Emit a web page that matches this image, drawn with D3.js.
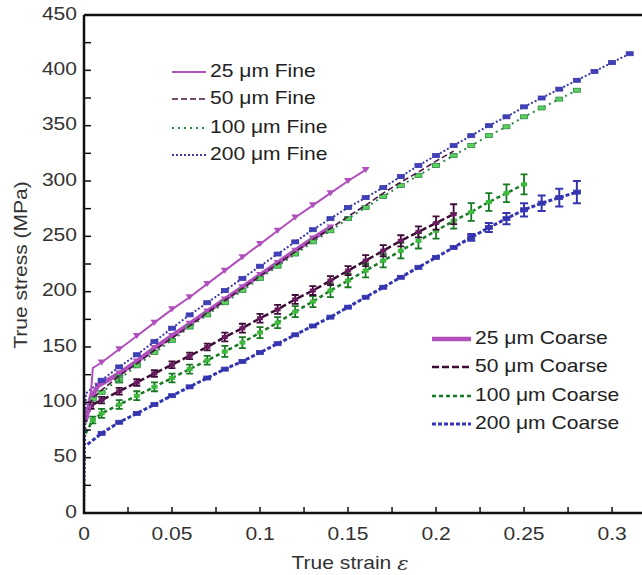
<!DOCTYPE html>
<html>
<head>
<meta charset="utf-8">
<script src="https://cdn.jsdelivr.net/npm/d3@7"></script>
<style>
  body { margin: 0; background: #fff; }
  svg { display: block; font-family: "Liberation Sans", Arial, sans-serif; }
</style>
</head>
<body>
<div id="chart-area"></div>
<script>
// tick values
var xTicks = [0, 0.05, 0.1, 0.15, 0.2, 0.25, 0.3];
var yTicks = [0, 50, 100, 150, 200, 250, 300, 350, 400, 450];

// series: [strain, stress, error bar half-size]
var fine25 = [[0.001,88,0],[0.004,110,0],[0.005,131,0],[0.01,136,2],[0.02,148,2],[0.03,160,2],[0.04,172,2],[0.05,184,2],[0.06,195,2],
  [0.07,207,2],[0.08,219,2],[0.09,231,2],[0.1,243,2],[0.11,255,2],[0.12,267,2],[0.13,278,2],[0.14,289,2],[0.15,300,2],[0.16,310,2]];
var coarse25 = [[0.001,84,0],[0.004,104,0],[0.008,115,2],[0.02,126,2],[0.03,137,2],[0.04,149,2],[0.05,160,2],[0.06,171,2],
  [0.07,182,2],[0.08,193,2],[0.09,204,2],[0.1,215,2],[0.11,226,2],[0.12,237,2],[0.13,248,2],[0.14,258,2]];
var fine50 = [[0.001,90,0],[0.005,104,0],[0.01,111,0],[0.02,124,0],[0.03,135,0],[0.04,147,0],[0.05,158,0],[0.06,169,0],[0.07,181,0],
  [0.08,192,0],[0.09,203,0],[0.1,214,0],[0.11,225,0],[0.12,236,0],[0.13,247,0],[0.14,257,0],[0.15,268,0],[0.16,278,0],
  [0.17,289,0],[0.18,299,0],[0.19,308,0],[0.2,318,0],[0.21,327,2]];
var fine100 = [[0.001,92,0],[0.005,103,2],[0.01,109,2],[0.02,121,3],[0.03,133,2],[0.04,145,2],[0.05,156,2],[0.06,168,2],[0.07,179,2],
  [0.08,190,2],[0.09,201,2],[0.1,212,2],[0.11,223,2],[0.12,234,2],[0.13,245,2],[0.14,255,2],[0.15,266,2],[0.16,276,2],
  [0.17,286,2],[0.18,296,2],[0.19,305,2],[0.2,314,2],[0.21,323,2],[0.22,332,2],[0.23,341,2],[0.24,349,2],[0.25,358,2],
  [0.26,366,2],[0.27,374,2],[0.28,382,2]];
var fine200 = [[0,0,0],[0.001,108,0],[0.01,120,2],[0.02,132,2],[0.03,143,2],[0.04,155,2],[0.05,167,2],[0.06,179,2],[0.07,190,2],
  [0.08,201,2],[0.09,212,2],[0.1,223,2],[0.11,234,2],[0.12,245,2],[0.13,256,2],[0.14,266,2],[0.15,276,2],[0.16,285,2],
  [0.17,294,2],[0.18,304,2],[0.19,314,2],[0.2,323,2],[0.21,332,2],[0.22,341,2],[0.23,350,2],[0.24,358,2],[0.25,367,2],
  [0.26,375,2],[0.27,383,2],[0.28,391,2],[0.29,399,2],[0.3,407,2],[0.31,415,2]];
var coarse50 = [[0.001,82,0],[0.004,97,3],[0.01,102,3],[0.02,110,3],[0.03,118,3],[0.04,126,3],[0.05,134,3],[0.06,142,3],[0.07,150,3],
  [0.08,159,4],[0.09,167,4],[0.1,176,4],[0.11,184,4],[0.12,193,4],[0.13,201,4],[0.14,210,4],[0.15,219,4],[0.16,228,5],
  [0.17,237,5],[0.18,246,5],[0.19,254,5],[0.2,262,6],[0.21,270,9]];
var coarse100 = [[0.001,72,0],[0.005,84,3],[0.01,90,4],[0.02,98,4],[0.03,106,4],[0.04,114,4],[0.05,122,4],[0.06,130,4],[0.07,138,4],
  [0.08,146,5],[0.09,154,5],[0.1,163,5],[0.11,172,5],[0.12,182,5],[0.13,191,5],[0.14,201,6],[0.15,210,6],[0.16,219,6],
  [0.17,228,6],[0.18,237,7],[0.19,246,7],[0.2,255,7],[0.21,264,7],[0.22,272,8],[0.23,281,8],[0.24,289,8],[0.25,297,9]];
var coarse200 = [[0.002,62,0],[0.01,72,2],[0.02,82,2],[0.03,90,2],[0.04,98,2],[0.05,106,2],[0.06,114,2],[0.07,122,2],[0.08,130,2],
  [0.09,137,2],[0.1,145,2],[0.11,153,2],[0.12,161,2],[0.13,169,2],[0.14,177,2],[0.15,186,2],[0.16,195,2],[0.17,204,2],
  [0.18,213,2],[0.19,222,2],[0.2,231,2],[0.21,240,2],[0.22,249,3],[0.23,258,4],[0.24,266,5],[0.25,274,6],[0.26,280,7],
  [0.27,285,8],[0.28,290,10]];

var series = [
  {name: "25 \u03bcm Fine", data: fine25, color: "#b150bd", width: 2, dash: null, mark: "tri"},
  {name: "50 \u03bcm Fine", data: fine50, color: "#4a1444", width: 1.6, dash: "6,3", mark: "none"},
  {name: "100 \u03bcm Fine", data: fine100, color: "#2b8a44", width: 2, dash: "2,4", mark: "rect", fill: "#5ccf5c"},
  {name: "200 \u03bcm Fine", data: fine200, color: "#3a3aa8", width: 2, dash: "2,2", mark: "rect", fill: "#4040b8"},
  {name: "25 \u03bcm Coarse", data: coarse25, color: "#b150bd", width: 4.5, dash: null, mark: "tri"},
  {name: "50 \u03bcm Coarse", data: coarse50, color: "#3d0b36", width: 2.5, dash: "7,3", mark: "bar", fill: "#6a1a60"},
  {name: "100 \u03bcm Coarse", data: coarse100, color: "#177a22", width: 2.5, dash: "4,3", mark: "bar", fill: "#3cba3c"},
  {name: "200 \u03bcm Coarse", data: coarse200, color: "#3535b0", width: 3, dash: "4,2", mark: "rect", fill: "#3535b0"}
];

var W = 642, H = 575;
var FS = 18, SX = 1.17;   // text in the source is a bit wide
var svg = d3.select("#chart-area").append("svg")
    .attr("width", W)
    .attr("height", H);

var x = d3.scaleLinear().domain([0, 0.317]).range([84, 642]);
var y = d3.scaleLinear().domain([0, 450]).range([513, 15]);

var line = d3.line()
    .x(function(d) { return x(d[0]); })
    .y(function(d) { return y(d[1]); });

function bar(d, hw) {
  var cx = x(d[0]), t = y(d[1] + d[2]), bt = y(d[1] - d[2]);
  return "M" + (cx - hw) + "," + t + "H" + (cx + hw) +
         "M" + cx + "," + t + "V" + bt +
         "M" + (cx - hw) + "," + bt + "H" + (cx + hw);
}

var order = [7, 6, 5, 4, 2, 3, 1, 0];
order.forEach(function(i) {
  var s = series[i];
  var g = svg.append("g");
  g.append("path")
      .datum(s.data)
      .attr("d", line)
      .attr("fill", "none")
      .attr("stroke", s.color)
      .attr("stroke-width", s.width)
      .attr("stroke-dasharray", s.dash);

  var pts = s.data.filter(function(d) { return d[2] > 0; });
  if (s.mark == "bar") {
    var b = g.selectAll(".eb").data(pts).enter().append("g");
    b.append("path")
        .attr("d", function(d) { return bar(d, 3.5); })
        .attr("stroke", s.color)
        .attr("stroke-width", 1.8)
        .attr("fill", "none");
    b.append("rect")
        .attr("x", function(d) { return x(d[0]) - 3; })
        .attr("y", function(d) { return y(d[1]) - 2; })
        .attr("width", 6).attr("height", 4)
        .attr("fill", s.fill);
  } else if (s.mark == "rect") {
    g.selectAll(".mk").data(pts).enter().append("rect")
        .attr("x", function(d) { return x(d[0]) - 3.5; })
        .attr("y", function(d) { return y(d[1]) - 2; })
        .attr("width", 7).attr("height", 4)
        .attr("fill", s.fill)
        .attr("stroke", s.color)
        .attr("stroke-width", 0.8);
    var big = pts.filter(function(d) { return d[2] > 2; });
    g.selectAll(".eb").data(big).enter().append("path")
        .attr("d", function(d) { return bar(d, 4); })
        .attr("stroke", s.color)
        .attr("stroke-width", 2)
        .attr("fill", "none");
  } else if (s.mark == "tri") {
    g.selectAll(".mk").data(pts).enter().append("path")
        .attr("d", function(d) {
          var cx = x(d[0]), cy = y(d[1]);
          return "M" + (cx - 4) + "," + (cy - 3) + "L" + (cx + 4) + "," + (cy - 3) +
                 "L" + cx + "," + (cy + 3) + "Z";
        })
        .attr("fill", s.color);
  }
});

// frame
svg.append("path")
    .attr("d", "M84,15H" + W + "M84,15V513H" + W)
    .attr("fill", "none")
    .attr("stroke", "#111")
    .attr("stroke-width", 2.5);

// inward ticks, major and minor
var tickG = svg.append("g").attr("stroke", "#111").attr("stroke-width", 1.5);
d3.range(0, 0.3251, 0.025).forEach(function(v) {
  tickG.append("line").attr("x1", x(v)).attr("x2", x(v)).attr("y1", 513).attr("y2", 507);
});
d3.range(0, 451, 25).forEach(function(v) {
  tickG.append("line").attr("x1", 84).attr("x2", 91).attr("y1", y(v)).attr("y2", y(v));
});

function label(px, py, anchor, str, color, rot) {
  return svg.append("text")
      .attr("transform", "translate(" + px + "," + py + ")" + (rot ? " rotate(" + rot + ")" : "") + " scale(" + SX + ",1)")
      .attr("text-anchor", anchor)
      .attr("dominant-baseline", "middle")
      .attr("font-size", FS)
      .attr("fill", color)
      .text(str);
}

xTicks.forEach(function(d) { label(x(d), 535, "middle", d, "#333"); });
yTicks.forEach(function(d) { label(77, y(d), "end", d, "#333"); });

label(22, 265, "middle", "True stress (MPa)", "#333", -90);

var xl = label(350, 564, "middle", "True strain ", "#333");
xl.append("tspan").attr("font-style", "italic").attr("font-family", "DejaVu Serif, serif").text("\u03b5");

// legends
function legend(items, x0, x1, ys) {
  items.forEach(function(i, k) {
    var s = series[i];
    svg.append("line")
        .attr("x1", x0).attr("x2", x1)
        .attr("y1", ys[k]).attr("y2", ys[k])
        .attr("stroke", s.color)
        .attr("stroke-width", s.width)
        .attr("stroke-dasharray", s.dash);
    label(x1 + 4, ys[k], "start", s.name, "#222");
  });
}
legend([0, 1, 2, 3], 172, 206, [72, 99, 128, 155]);
legend([4, 5, 6, 7], 432, 471, [339, 367, 396, 424]);
</script>
</body>
</html>
